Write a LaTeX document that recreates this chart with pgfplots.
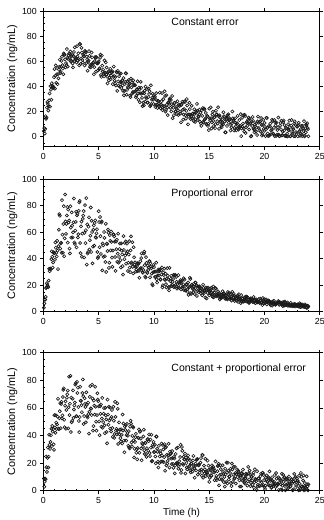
\documentclass[border=0pt]{standalone}
\usepackage{fontspec}
\setmainfont{Liberation Sans}
\usepackage{pgfplots}
\usepackage{pgfplotstable}
\pgfplotsset{compat=1.18}

\pgfplotstableread{
t c1 c2 c3
0.05 4.4 3.0 8.8
0.13 2.5 9.2 6.5
0.21 16.3 11.2 8.3
0.29 15.2 18.4 17.0
0.37 27.6 20.1 23.8
0.45 20.8 18.5 16.8
0.53 28.9 32.5 40.6
0.61 23.9 32.3 30.3
0.69 37.3 32.1 40.2
0.77 42.5 45.6 32.3
0.85 39.1 33.3 42.8
0.93 38.8 44.9 33.6
1.01 53.8 44.3 54.7
1.09 48.5 52.3 42.0
1.17 42.8 44.5 49.4
1.25 54.6 53.5 48.0
1.33 49.8 32.2 66.6
1.41 53.4 61.9 44.6
1.49 61.2 72.5 57.6
1.57 51.6 51.6 45.3
1.65 60.3 44.5 64.4
1.73 56.9 58.2 54.6
1.81 49.7 66.2 73.1
1.89 65.2 41.9 51.4
1.97 61.5 88.5 61.6
2.05 58.5 58.8 44.9
2.13 69.7 72.7 67.4
2.21 55.7 52.1 72.6
2.29 64.7 67.4 60.5
2.37 62.4 47.7 54.8
2.45 67.7 79.6 83.2
2.53 60.4 55.9 67.5
2.61 65.0 64.9 50.6
2.69 55.1 59.9 72.7
2.77 67.4 85.5 58.8
2.85 71.1 51.1 63.9
2.93 62.2 67.8 78.0
3.01 59.0 48.6 54.0
3.09 63.8 74.0 70.8
3.17 66.3 58.5 60.6
3.25 56.7 82.5 42.4
3.33 73.6 51.9 75.3
3.41 62.2 64.4 65.1
3.49 66.9 41.5 56.9
3.57 59.0 70.1 80.6
3.65 64.1 76.0 48.3
3.73 56.6 59.5 67.0
3.81 67.6 51.8 60.7
3.89 58.6 85.8 71.3
3.97 61.5 66.0 54.1
4.05 59.4 45.0 63.8
4.13 68.0 71.3 41.4
4.21 55.5 54.0 68.0
4.29 55.1 78.7 59.6
4.37 66.9 68.7 54.8
4.45 57.5 36.5 66.8
4.53 58.9 61.9 46.8
4.61 55.3 49.9 61.6
4.69 63.4 69.0 75.3
4.77 51.7 55.9 50.0
4.85 58.4 62.3 54.8
4.93 52.6 40.5 66.0
5.01 59.9 75.9 61.1
5.09 54.4 48.7 40.2
5.17 65.2 57.0 55.7
5.25 47.6 67.3 46.3
5.33 56.5 31.2 67.2
5.41 53.3 50.1 49.7
5.49 47.9 60.2 59.9
5.57 50.6 41.9 41.7
5.65 59.1 66.4 54.6
5.73 55.0 51.4 42.5
5.81 42.4 45.8 66.0
5.89 51.9 59.6 47.8
5.97 46.9 37.0 50.9
6.05 54.0 53.5 45.0
6.13 48.6 60.5 42.9
6.21 50.9 40.8 58.5
6.29 41.8 46.2 39.0
6.37 55.8 58.2 50.7
6.45 44.5 52.9 41.1
6.53 47.6 30.8 53.5
6.61 51.7 47.2 44.8
6.69 36.4 37.6 63.3
6.77 44.0 58.9 33.9
6.85 48.1 41.3 49.5
6.93 39.9 51.5 44.4
7.01 50.3 33.4 35.6
7.09 43.5 46.1 40.5
7.17 40.8 34.4 55.2
7.25 46.6 57.1 48.7
7.33 36.4 39.7 27.8
7.41 43.5 42.5 44.0
7.49 50.2 36.3 36.3
7.57 37.2 51.4 48.4
7.65 39.5 30.7 39.8
7.73 45.0 43.2 43.2
7.81 42.3 33.3 30.6
7.89 31.5 46.3 50.7
7.97 39.2 37.2 35.0
8.05 34.4 52.5 39.7
8.13 44.8 28.9 45.7
8.21 35.7 41.1 24.1
8.29 40.8 37.2 35.3
8.37 31.3 30.2 41.2
8.45 37.7 34.1 30.0
8.53 44.1 30.8 30.9
8.61 29.3 36.2 38.2
8.69 37.5 25.6 27.5
8.77 34.4 38.1 43.1
8.85 38.9 40.5 30.6
8.93 30.9 32.9 34.6
9.01 35.1 29.4 31.8
9.09 24.8 44.0 44.2
9.17 36.6 35.1 26.6
9.25 39.8 25.8 34.5
9.33 30.4 36.8 24.5
9.41 26.9 29.3 37.0
9.49 31.5 31.5 28.9
9.57 33.9 38.2 40.8
9.65 24.2 26.0 25.1
9.73 40.9 34.0 31.2
9.81 29.4 28.8 21.3
9.89 34.1 19.9 33.2
9.97 26.0 35.3 35.4
10.05 31.1 30.2 28.2
10.13 23.6 26.2 24.8
10.21 34.6 37.0 39.3
10.29 25.6 22.0 30.4
10.37 28.5 30.2 21.1
10.45 26.4 27.3 32.5
10.53 35.1 31.8 24.8
10.61 22.6 24.1 27.1
10.69 28.2 28.1 34.2
10.77 21.1 18.4 21.2
10.85 29.8 29.6 29.9
10.93 24.1 32.5 24.3
11.01 32.4 24.0 14.5
11.09 21.3 20.8 31.7
11.17 25.5 25.0 26.1
11.25 17.1 27.2 21.6
11.33 27.2 18.6 34.0
11.41 29.2 33.1 16.8
11.49 23.0 23.1 26.5
11.57 20.1 27.1 23.2
11.65 32.4 20.4 28.7
11.73 25.0 24.7 19.5
11.81 17.1 18.5 24.5
11.89 26.8 27.4 12.6
11.97 20.2 20.2 26.6
12.05 22.2 22.6 30.7
12.13 28.2 20.8 19.8
12.21 17.2 27.6 15.9
12.29 24.6 18.0 21.4
12.37 19.9 22.2 24.4
12.45 11.4 16.9 12.9
12.53 26.1 23.3 31.7
12.61 21.4 19.2 19.5
12.69 17.6 25.2 24.6
12.77 28.1 24.2 22.6
12.85 17.1 16.0 12.5
12.93 20.5 20.9 20.0
13.01 24.8 16.9 15.5
13.09 9.8 22.0 25.6
13.17 17.7 18.4 17.3
13.25 21.9 25.7 22.2
13.33 14.0 14.1 13.3
13.41 24.6 20.1 19.6
13.49 18.1 18.1 13.8
13.57 15.7 14.7 25.2
13.65 21.8 16.6 16.4
13.73 11.7 22.0 17.9
13.81 19.1 19.5 14.7
13.89 26.1 11.9 22.7
13.97 13.3 17.7 11.7
14.05 15.8 14.8 18.4
14.13 21.5 19.1 13.1
14.21 19.1 16.1 20.3
14.29 8.6 17.5 15.3
14.37 16.5 12.4 25.9
14.45 11.8 20.4 9.4
14.53 22.4 14.1 18.2
14.61 13.7 16.0 15.5
14.69 18.9 18.2 10.6
14.77 9.7 10.0 13.4
14.85 16.3 14.2 21.8
14.93 10.3 16.5 18.2
15.01 22.3 12.3 6.4
15.09 13.1 17.6 15.7
15.17 14.7 14.3 11.3
15.25 11.4 13.0 18.4
15.33 19.8 15.9 13.5
15.41 8.4 10.9 16.0
15.49 15.4 14.5 7.6
15.57 9.9 17.8 21.2
15.65 17.4 11.6 10.7
15.73 12.3 12.8 14.1
15.81 23.4 15.3 18.2
15.89 6.2 14.1 3.9
15.97 15.4 9.2 11.4
16.05 12.6 12.8 15.6
16.13 7.5 10.7 8.2
16.21 10.6 15.4 18.4
16.29 19.4 11.4 12.2
16.37 15.7 13.6 10.0
16.45 3.5 9.7 15.9
16.53 13.2 12.5 6.3
16.61 8.5 9.8 13.4
16.69 16.1 14.8 20.2
16.77 11.1 10.9 8.1
16.85 13.6 11.5 10.4
16.93 4.9 10.1 15.9
17.01 7.5 8.4 3.3
17.09 20.0 15.0 15.4
17.17 12.6 10.5 11.5
17.25 4.9 12.2 8.5
17.33 14.6 9.2 17.3
17.41 8.2 11.1 5.2
17.49 10.3 8.3 12.1
17.57 16.5 12.3 9.8
17.65 5.6 9.1 13.7
17.73 13.2 10.2 7.5
17.81 8.6 9.4 11.0
17.89 0.4 12.5 3.0
17.97 15.0 8.1 12.5
18.05 10.4 10.0 15.3
18.13 6.7 7.6 8.0
18.21 17.4 10.5 5.3
18.29 2.9 8.6 9.2
18.37 11.4 11.4 11.6
18.45 8.6 7.8 3.7
18.53 13.5 9.1 17.3
18.61 5.7 6.5 8.2
18.69 10.2 9.6 12.0
18.77 0.2 10.2 5.8
18.85 12.2 8.3 10.0
18.93 15.7 7.4 4.2
19.01 6.6 11.1 13.1
19.09 3.4 8.8 6.1
19.17 8.2 6.5 8.6
19.25 10.8 9.3 7.0
19.33 1.3 7.4 14.1
19.41 16.0 7.9 4.3
19.49 6.9 9.5 8.9
19.57 11.8 6.5 3.4
19.65 4.1 8.6 10.6
19.73 9.4 7.2 6.2
19.81 2.1 5.0 12.9
19.89 13.3 8.8 4.2
19.97 4.6 7.5 7.7
20.05 7.7 6.6 1.2
20.13 5.9 9.3 9.4
20.21 14.8 5.5 11.1
20.29 2.5 7.6 6.3
20.37 8.3 6.8 4.0
20.45 1.4 7.9 14.0
20.53 10.4 6.0 8.2
20.61 4.9 7.0 2.0
20.69 13.4 4.6 9.8
20.77 2.5 7.3 4.7
20.85 7.0 8.2 6.5
20.93 0.4 6.0 11.4
21.01 9.0 5.2 2.7
21.09 11.2 6.2 8.7
21.17 5.3 6.8 5.1
21.25 15.2 8.1 9.7
21.33 0.5 5.2 5.6
21.41 8.7 5.8 7.8
21.49 5.9 6.9 0.9
21.57 0.9 6.4 12.3
21.65 4.0 4.2 3.6
21.73 12.9 5.8 6.4
21.81 9.2 4.8 9.9
21.89 0.6 6.9 0.3
21.97 6.9 5.1 4.4
22.05 2.3 6.2 8.0
22.13 9.9 4.4 1.8
22.21 4.9 5.6 10.3
22.29 7.6 4.5 5.3
22.37 0.5 6.6 3.4
22.45 13.2 4.9 8.3
22.53 2.4 5.2 0.4
22.61 5.9 4.5 6.4
22.69 10.4 6.0 12.2
22.77 0.3 3.9 2.0
22.85 3.6 5.2 4.2
22.93 8.0 4.2 8.8
23.01 0.3 5.5 7.0
23.09 11.0 4.6 0.3
23.17 4.7 6.4 5.1
23.25 2.4 3.5 1.4
23.33 8.6 5.0 10.0
23.41 0.4 4.5 3.1
23.49 6.3 3.7 7.4
23.57 12.3 4.2 0.2
23.65 0.8 5.5 5.5
23.73 3.5 5.0 0.8
23.81 9.3 3.0 10.4
23.89 7.0 4.5 3.2
23.97 0.3 3.7 4.6
0.09 6.8 6.2 2.9
0.17 6.2 9.1 8.8
0.25 14.2 17.8 24.8
0.33 23.1 21.5 13.6
0.41 26.0 19.2 31.3
0.49 24.0 23.5 24.6
0.57 34.4 30.6 33.2
0.65 40.2 32.6 35.4
0.73 29.3 39.6 44.9
0.81 40.5 41.5 46.9
0.89 39.9 37.2 44.7
0.97 47.3 44.2 29.6
1.05 38.2 39.2 45.8
1.13 56.7 48.3 54.7
1.21 49.6 41.7 44.7
1.29 41.8 46.1 53.7
1.37 46.4 49.5 45.0
1.45 55.6 73.7 52.5
1.53 50.5 47.7 63.5
1.61 55.7 52.1 62.8
1.69 63.6 84.2 52.4
1.77 54.2 44.6 67.9
1.85 66.2 79.7 74.2
1.93 65.2 55.4 46.0
2.01 55.1 68.2 64.7
2.09 56.9 66.3 58.5
2.17 62.7 79.1 69.8
2.25 61.8 77.1 45.2
2.33 66.2 68.9 82.6
2.41 65.7 44.0 63.0
2.49 59.9 63.5 42.5
2.57 64.1 75.0 49.6
2.65 58.3 56.1 66.7
2.73 64.2 67.5 52.7
2.81 60.2 52.3 61.8
2.89 61.7 61.3 76.9
2.97 62.7 75.5 54.0
3.05 72.0 72.8 78.9
3.13 60.5 56.1 74.7
3.21 61.7 76.2 50.5
3.29 73.8 83.7 53.4
3.37 57.8 44.2 65.2
3.45 70.7 68.0 62.0
3.53 61.0 59.0 70.8
3.61 65.2 72.5 68.5
3.69 63.9 41.0 54.1
3.77 68.2 80.5 62.9
3.85 67.0 61.6 49.6
3.93 63.6 35.6 62.3
4.01 52.5 43.9 53.0
4.09 60.6 64.2 55.6
4.17 64.3 47.0 57.2
4.25 57.1 57.4 75.8
4.33 56.7 45.1 59.4
4.41 63.1 60.2 76.8
4.49 58.6 49.2 43.5
4.57 49.6 65.2 65.3
4.65 60.1 67.0 55.1
4.73 62.7 56.2 60.9
4.81 63.2 59.2 43.5
4.89 58.2 45.1 70.6
4.97 58.7 41.4 64.9
5.05 53.7 67.7 50.2
5.13 62.7 71.5 61.2
5.21 49.1 43.6 62.5
5.29 64.5 68.2 52.3
5.37 51.8 51.5 45.6
5.45 50.0 41.4 55.8
5.53 60.7 55.8 47.3
5.61 50.8 37.5 60.1
5.69 49.4 30.0 51.7
5.77 47.6 51.2 34.3
5.85 51.2 62.0 55.2
5.93 44.8 33.1 60.9
6.01 50.2 57.8 60.4
6.09 45.7 46.3 52.3
6.17 51.5 52.7 53.4
6.25 52.0 33.9 45.4
6.33 47.5 58.5 60.8
6.41 48.3 56.9 38.3
6.49 42.4 41.3 64.4
6.57 40.7 53.0 43.5
6.65 51.0 54.3 40.7
6.73 52.4 43.8 59.3
6.81 40.6 37.0 42.8
6.89 50.5 47.3 40.8
6.97 43.3 38.9 38.1
7.05 38.7 51.6 44.5
7.13 44.7 43.3 34.2
7.21 36.5 28.0 43.6
7.29 32.9 46.6 36.3
7.37 41.9 52.0 46.5
7.45 50.5 53.1 47.6
7.53 33.4 44.3 40.3
7.61 44.2 45.5 41.9
7.69 38.9 37.0 32.6
7.77 41.6 53.3 31.5
7.85 32.7 29.9 46.4
7.93 46.2 56.9 48.6
8.01 43.1 36.1 32.2
8.09 35.5 33.9 46.5
8.17 41.0 48.7 36.5
8.25 41.4 35.6 30.4
8.33 36.0 34.0 38.8
8.41 32.5 31.8 27.5
8.49 37.5 36.7 22.7
8.57 34.4 36.4 38.4
8.65 39.0 30.9 44.4
8.73 27.4 32.2 42.7
8.81 43.6 32.9 37.8
8.89 34.2 44.0 22.0
8.97 24.3 30.0 33.8
9.05 27.2 31.4 39.3
9.13 34.5 45.3 29.3
9.21 27.8 26.5 34.7
9.29 31.5 41.2 26.6
9.37 37.9 30.0 30.8
9.45 27.2 34.7 37.5
9.53 38.2 33.4 35.9
9.61 36.1 38.1 27.3
9.69 24.9 36.6 37.1
9.77 25.9 32.8 40.6
9.85 31.0 20.9 21.6
9.93 29.4 29.8 31.9
10.01 33.1 33.7 27.9
10.09 31.8 26.3 33.3
10.17 25.2 30.2 19.8
10.25 29.0 24.4 39.1
10.33 22.8 27.3 28.2
10.41 28.3 31.9 16.8
10.49 23.9 30.6 20.1
10.57 25.0 24.6 28.8
10.65 25.6 31.2 21.1
10.73 34.7 33.4 25.5
10.81 23.1 20.0 33.2
10.89 24.2 27.7 20.7
10.97 36.1 24.5 33.7
11.05 20.0 28.7 31.2
11.13 32.9 18.3 18.3
11.21 23.1 32.9 19.6
11.29 27.3 24.6 25.7
11.37 26.1 16.1 23.8
11.45 30.4 18.7 28.3
11.53 29.2 24.9 27.0
11.61 25.8 19.4 19.3
11.69 14.7 22.5 23.7
11.77 23.0 27.8 16.6
11.85 26.9 19.2 23.3
11.93 19.8 27.9 18.3
12.01 23.6 26.2 19.7
12.09 18.0 17.4 20.4
12.17 20.9 18.3 31.3
12.25 25.6 22.2 17.8
12.33 24.5 21.0 19.2
12.41 18.4 23.8 33.3
12.49 25.3 22.8 15.0
12.57 27.8 18.0 28.9
12.65 13.6 20.7 18.7
12.73 22.0 16.3 22.8
12.81 27.6 19.3 26.8
12.89 14.3 16.2 24.0
12.97 29.9 20.4 16.9
13.05 17.5 15.0 22.3
13.13 15.9 12.7 23.0
13.21 27.0 18.9 18.0
13.29 17.4 24.7 14.8
13.37 16.2 13.4 19.7
13.45 14.6 20.5 15.6
13.53 18.5 17.1 21.9
13.61 12.4 18.9 17.8
13.69 18.1 13.4 9.4
13.77 13.8 21.9 19.6
13.85 19.9 20.0 22.4
13.93 20.6 15.4 23.0
14.01 16.4 18.7 18.5
14.09 17.5 19.0 19.2
14.17 11.9 15.9 14.7
14.25 10.4 13.9 23.6
14.33 21.1 16.9 10.9
14.41 22.7 14.4 25.8
14.49 11.2 18.0 14.0
14.57 21.5 15.6 12.6
14.65 14.5 10.7 23.1
14.73 10.2 16.4 13.9
14.81 16.4 17.9 12.9
14.89 8.5 18.1 11.4
14.97 5.2 15.6 15.1
15.05 14.5 15.9 9.3
15.13 23.3 13.4 14.7
15.21 6.5 18.1 10.8
15.29 17.6 11.3 16.6
15.37 12.5 19.0 17.3
15.45 15.5 12.8 13.3
15.53 6.8 12.0 14.4
15.61 20.6 17.3 9.1
15.69 17.8 12.7 7.7
15.77 10.4 12.1 17.8
15.85 16.2 11.3 19.5
15.93 16.9 13.0 8.5
16.01 11.8 10.3 18.3
16.09 8.6 12.8 11.7
16.17 13.8 10.8 7.7
16.25 9.6 13.5 13.6
16.33 16.2 13.8 6.2
16.41 12.0 11.8 3.0
16.49 3.4 12.3 11.9
16.57 14.1 9.9 20.4
16.65 17.1 9.3 5.2
16.73 17.8 13.5 14.5
16.81 13.2 14.1 10.3
16.89 14.0 9.5 12.8
16.97 9.3 13.4 5.6
17.05 10.6 9.9 19.7
17.13 14.5 12.6 6.3
17.21 13.5 13.6 17.3
17.29 7.0 8.1 9.1
17.37 11.0 11.2 12.8
17.45 5.0 9.9 11.9
17.53 10.7 11.6 15.3
17.61 6.6 7.4 14.5
17.69 7.8 13.2 11.8
17.77 8.6 9.9 3.1
17.85 17.9 6.5 9.8
17.93 6.5 7.5 12.9
18.01 7.8 10.1 7.4
18.09 17.0 7.8 10.6
18.17 4.0 9.1 6.2
18.25 16.4 11.2 8.6
18.33 7.4 7.7 12.4
18.41 11.8 11.3 11.6
18.49 10.8 10.6 6.8
18.57 15.2 7.0 12.5
18.65 14.2 7.4 14.6
18.73 11.0 9.0 3.3
18.81 0.5 8.5 10.0
18.89 8.5 9.6 7.4
18.97 12.5 9.2 11.3
19.05 5.6 7.2 2.2
19.13 9.6 8.4 15.5
19.21 4.1 6.6 8.2
19.29 7.2 8.2 0.5
19.37 12.1 7.0 3.0
19.45 11.1 7.3 9.0
19.53 5.1 7.4 3.8
19.61 12.2 9.9 7.0
19.69 14.8 6.8 12.3
19.77 0.8 7.0 3.9
19.85 9.3 10.3 12.9
19.93 6.1 6.0 11.4
20.01 10.9 9.3 2.6
20.09 0.4 6.7 3.6
20.17 15.0 7.8 7.8
20.25 7.0 7.4 6.6
20.33 0.6 8.6 9.9
20.41 0.6 8.2 9.1
20.49 8.2 7.3 3.9
20.57 1.8 4.7 7.1
20.65 5.8 6.7 2.4
20.73 12.5 7.6 7.0
20.81 2.0 5.9 3.6
20.89 13.2 6.7 4.6
20.97 11.3 5.4 5.2
21.05 0.5 6.1 12.8
21.13 1.7 7.1 3.7
21.21 7.0 6.8 4.7
21.29 1.6 7.3 0.5
21.37 0.4 7.3 8.9
21.45 10.9 6.3 4.8
21.53 12.6 6.5 7.3
21.61 1.3 5.4 0.4
21.69 11.6 7.3 11.5
21.77 4.8 4.6 9.3
21.85 0.7 7.7 3.4
21.93 6.9 5.1 8.0
22.01 0.4 4.9 8.7
22.09 0.2 7.0 4.7
22.17 5.4 5.1 2.2
22.25 12.8 4.9 6.4
22.33 0.3 4.5 3.0
22.41 8.8 5.3 8.4
22.49 3.7 4.1 5.1
22.57 6.9 5.2 0.3
22.65 0.3 4.4 6.8
22.73 12.2 5.5 9.3
22.81 9.4 5.5 9.9
22.89 2.1 4.7 6.2
22.97 8.0 5.0 7.0
23.05 8.9 4.0 3.4
23.13 3.8 3.7 10.8
23.21 0.6 5.5 0.4
23.29 6.0 5.7 12.9
23.37 1.9 3.9 3.2
23.45 8.6 5.4 2.0
23.53 4.5 4.4 11.0
23.61 0.2 3.6 3.3
23.69 6.7 4.6 2.6
23.77 9.7 3.3 1.4
23.85 10.6 2.9 4.7
23.93 6.0 4.2 0.2
}\conc

\tikzset{ttl/.style={anchor=west, font=\fontsize{10.5}{12}\selectfont}}

\pgfplotsset{
  panel/.style={
    scale only axis, width=276.5pt,
    xmin=0, xmax=25,
    xtick={0,5,...,25}, ytick={0,20,...,100},
    tick align=outside, major tick length=3pt,
    axis line style={line width=0.6pt},
    every tick/.style={black, line width=0.6pt},
    ticklabel style={font=\fontsize{8.8}{10}\selectfont},
    /pgf/number format/assume math mode=true,
    ylabel={Concentration (ng/mL)},
    every axis y label/.style={at={(axis description cs:-0.112,0.5)}, rotate=90, anchor=center, font=\fontsize{10.8}{12}\selectfont},
    clip=false,
  },
  minors/.style={
    scale only axis, width=276.5pt,
    xmin=0, xmax=25,
    axis x line*=bottom, axis y line*=left,
    axis line style={draw=none, -},
    tick align=inside, major tick length=2.2pt,
    every tick/.style={black, line width=0.5pt},
    xtick={1,2,3,4,6,7,8,9,11,12,13,14,16,17,18,19,21,22,23,24},
    xticklabels={}, yticklabels={},
  },
  dots/.style={only marks, mark=o, mark size=1.55pt, mark options={line width=0.65pt, draw=black!90}},
}

\begin{document}
\begin{tikzpicture}
\useasboundingbox (0pt,0pt) rectangle (324pt,-520pt);

% Panel 1
\begin{axis}[panel, at={(43.3pt,-146.7pt)}, anchor=south west, height=135.7pt, ymin=-8, ymax=100]
\addplot[dots] table[x=t, y=c1] {\conc};
\node[ttl] at (rel axis cs:0.4507,0.921) {Constant error};
\end{axis}
\begin{axis}[minors, at={(43.3pt,-146.7pt)}, anchor=south west, height=135.7pt, ymin=-8, ymax=100,
  ytick={-5,5,10,15,25,30,35,45,50,55,65,70,75,85,90,95}]
\end{axis}

% Panel 2
\begin{axis}[panel, at={(43.3pt,-311.7pt)}, anchor=south west, height=132.4pt, ymin=0, ymax=100]
\addplot[dots] table[x=t, y=c2] {\conc};
\node[ttl] at (rel axis cs:0.4507,0.887) {Proportional error};
\end{axis}
\begin{axis}[minors, at={(43.3pt,-311.7pt)}, anchor=south west, height=132.4pt, ymin=0, ymax=100,
  ytick={5,10,15,25,30,35,45,50,55,65,70,75,85,90,95}]
\end{axis}

% Panel 3
\begin{axis}[panel, at={(43.3pt,-490.7pt)}, anchor=south west, height=138pt, ymin=0, ymax=100,
  xlabel={Time (h)},
  every axis x label/.style={at={(axis description cs:0.5,-0.163)}, anchor=center, font=\fontsize{10}{12}\selectfont}]
\addplot[dots] table[x=t, y=c3] {\conc};
\node[ttl] at (rel axis cs:0.4507,0.880) {Constant + proportional error};
\end{axis}
\begin{axis}[minors, at={(43.3pt,-490.7pt)}, anchor=south west, height=138pt, ymin=0, ymax=100,
  ytick={5,10,15,25,30,35,45,50,55,65,70,75,85,90,95}]
\end{axis}
\end{tikzpicture}
\end{document}
